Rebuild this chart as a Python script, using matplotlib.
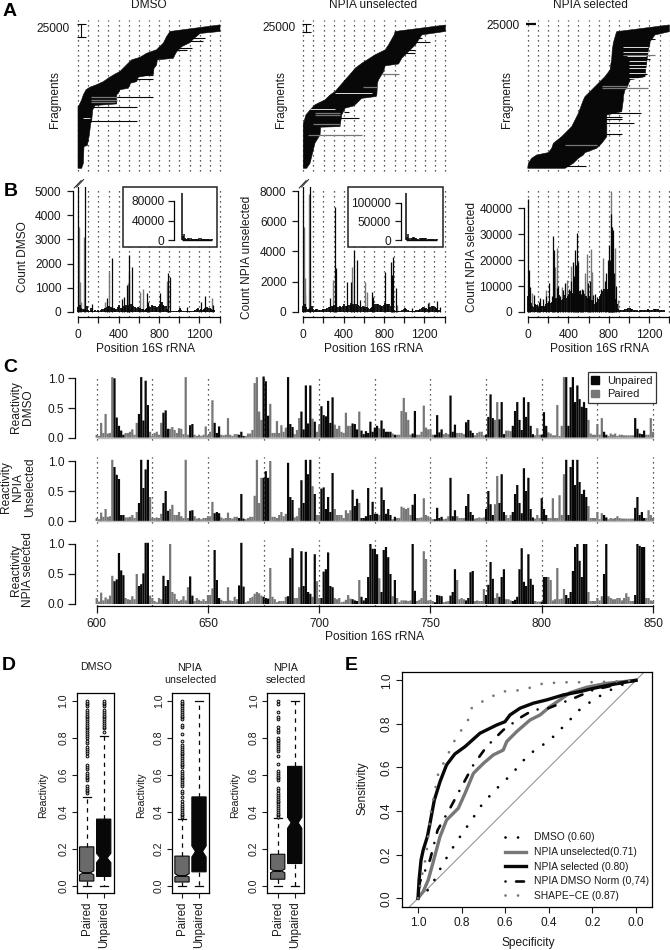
import numpy as np
import matplotlib
matplotlib.use('Agg')
import matplotlib.pyplot as plt
from matplotlib.patches import Rectangle, Patch

W, H = 670, 950
plt.rcParams['font.family'] = ['Liberation Sans', 'DejaVu Sans']
plt.rcParams['font.size'] = 8.6
plt.rcParams['text.color'] = '#1a1a1a'
plt.rcParams['axes.linewidth'] = 0.9
plt.rcParams['xtick.color'] = '#1a1a1a'
plt.rcParams['ytick.color'] = '#1a1a1a'
BLACK = '#080808'
GRAY = '#777777'

# panel A: outline of the sorted fragments (thousands of fragments, positions)
a1_left_frag = [0, 122, 124, 135, 145, 155, 160, 165, 171, 178, 186, 191, 201, 214, 219, 227, 234, 247, 260, 270, 283]
a1_left = [0, 0, 10, 36, 53, 79, 118, 184, 250, 299, 365, 414, 463, 529, 611, 677, 775, 841, 874, 907, 1400]
a1_right_frag = [0, 10, 43, 45, 66, 88, 94, 115, 124, 127, 145, 148, 155, 158, 168, 171, 180, 185, 197, 204, 214, 217, 224, 230, 240, 248, 255, 266, 270, 283]
a1_right = [36, 53, 59, 92, 112, 125, 135, 145, 168, 381, 381, 398, 414, 496, 519, 578, 595, 743, 749, 775, 782, 940, 956, 973, 1022, 1104, 1137, 1203, 1400, 1400]
a1_spike = [94, 120, 141, 176, 184, 189, 234, 237, 252, 257, 263]
a1_start = [53, 118, 118, 480, 480, 480, 940, 973, 1003, 1068, 1068]
a1_end = [578, 578, 743, 736, 743, 726, 1070, 1120, 1235, 1252, 1170]
a1_gray = [135, 140, 130]
a1_gray_start = [125, 125, 125]
a1_gray_end = [381, 381, 360]
a1_white = [99]
a1_white_start = [53]
a1_white_end = [118]

a2_left_frag = [0, 147, 152, 174, 190, 207, 223, 239, 250, 288, 315, 326, 342, 370, 386, 402, 435, 446, 467]
a2_left = [0, 0, 7, 26, 66, 115, 214, 264, 313, 412, 484, 511, 576, 708, 807, 840, 896, 906, 1400]
a2_right_frag = [0, 16, 82, 109, 134, 136, 174, 196, 203, 210, 228, 234, 239, 277, 288, 315, 334, 340, 359, 370, 386, 402, 435, 446, 467]
a2_right = [33, 66, 115, 165, 171, 362, 379, 412, 494, 520, 576, 718, 725, 731, 741, 791, 807, 939, 972, 1005, 1054, 1104, 1169, 1400, 1400]
a2_spike = [163, 185, 413, 424, 440, 375, 386]
a2_start = [300, 400, 988, 988, 906, 1005, 1005]
a2_end = [550, 451, 1252, 1169, 1219, 1104, 1104]
a2_gray = [109, 308, 174, 179, 145, 264]
a2_gray_start = [49, 774, 115, 115, 100, 593]
a2_gray_end = [576, 939, 362, 362, 362, 731]
a2_white = [247, 192, 114]
a2_white_start = [313, 66, 198]
a2_white_end = [675, 313, 313]

a3_left_frag = [0, 63, 125, 167, 196, 250, 312, 396, 437, 521, 562, 687, 708, 854, 896, 979, 1000, 1104, 1146, 1229, 1312, 1354, 1479, 1562, 1583, 1667, 1708, 1792]
a3_left = [0, 7, 39, 89, 204, 237, 253, 335, 368, 434, 450, 500, 506, 549, 565, 631, 647, 729, 762, 812, 821, 828, 834, 844, 848, 867, 877, 1397]
a3_right_frag = [0, 63, 125, 167, 196, 250, 312, 396, 667, 708, 854, 896, 979, 1000, 1104, 1146, 1229, 1312, 1354, 1479, 1562, 1583, 1667, 1708, 1792]
a3_right = [368, 450, 499, 549, 565, 680, 730, 780, 780, 927, 943, 943, 959, 976, 1009, 1157, 1163, 1173, 1176, 1190, 1206, 1206, 1255, 1397, 1397]
a3_spike = [29, 429, 562, 612, 646, 687, 1179, 1363, 1613]
a3_start = [368, 729, 664, 664, 664, 582, 992, 992, 943]
a3_end = [572, 933, 1048, 933, 933, 1114, 1173, 1206, 1255]
a3_gray = [292, 1000, 1029, 1417]
a3_gray_start = [368, 729, 729, 943]
a3_gray_end = [680, 1190, 979, 1255]
a3_white = [1458, 1520, 1400, 1340, 1290, 1250, 1196, 1125]
a3_white_start = [943, 943, 980, 1000, 1000, 1000, 1000, 1000]
a3_white_end = [1190, 1190, 1170, 1170, 1170, 1170, 1160, 1150]

# panel B: background counts every 14 nt, then the tall peaks
dmso_base = [200, 300, 180, 120, 90, 140, 260, 100, 60, 150, 90, 60, 70, 50, 80, 60, 90, 110, 120, 160, 200, 240, 260, 200, 150, 180, 140, 120, 200, 300, 180, 150, 260, 220, 280, 300, 240, 320, 200, 260, 220, 180, 200, 160, 180, 140, 120, 100, 120, 160, 180, 220, 300, 260, 240, 180, 200, 240, 350, 400, 300, 260, 240, 120, 60, 40, 30, 40, 30, 30, 40, 100, 150, 100, 60, 40, 30, 30, 30, 40, 40, 50, 60, 90, 120, 150, 100, 120, 90, 130, 170, 200, 180, 150, 130, 100, 80]
dmso_black_pos = [0, 66, 132, 288, 330, 430, 453, 479, 506, 532, 678, 691, 810, 886, 892, 912, 1074, 1216, 1256, 1339]
dmso_black = [5300, 5300, 350, 560, 2250, 550, 630, 1100, 2350, 1870, 770, 430, 770, 1620, 1050, 1460, 220, 420, 660, 290]
dmso_gray_pos = [7, 16, 26, 60, 264, 307, 489, 499, 612, 638, 876, 1322]
dmso_gray = [3500, 1250, 400, 3100, 430, 1660, 1180, 1660, 840, 950, 1280, 565]

unsel_base = [400, 500, 350, 200, 150, 260, 400, 200, 100, 220, 200, 120, 150, 130, 200, 220, 200, 260, 300, 340, 380, 420, 450, 380, 300, 350, 400, 320, 380, 500, 420, 380, 440, 480, 600, 500, 420, 500, 380, 450, 420, 360, 400, 340, 360, 300, 260, 220, 260, 320, 400, 500, 560, 500, 450, 380, 420, 480, 600, 520, 560, 500, 420, 200, 120, 90, 70, 80, 60, 70, 120, 220, 280, 200, 130, 90, 70, 70, 70, 90, 100, 110, 130, 200, 280, 320, 220, 260, 200, 280, 360, 420, 380, 320, 280, 220, 150]
unsel_black_pos = [0, 65, 70, 264, 314, 320, 436, 470, 502, 536, 562, 678, 694, 810, 866, 880, 892, 916, 1081, 1200, 1233, 1329, 1352]
unsel_black = [8300, 8300, 1450, 950, 6950, 2880, 2000, 2000, 4090, 3430, 800, 1340, 1000, 2660, 3280, 2440, 3650, 1560, 240, 350, 570, 730, 350]
unsel_gray_pos = [8, 15, 20, 60, 298, 479, 611, 635, 930, 1246]
unsel_gray = [5600, 2250, 1150, 7800, 2100, 3000, 2000, 1340, 460, 680]

sel_base = [6000, 5000, 3500, 2500, 2000, 3000, 2800, 1800, 1200, 2500, 2200, 1500, 2500, 3000, 3500, 4000, 3500, 3800, 4500, 5000, 5500, 6000, 6500, 5500, 4500, 5000, 6500, 5500, 6000, 7000, 8000, 7500, 7000, 8000, 9000, 8000, 7000, 8000, 6000, 6500, 7000, 6000, 5500, 6000, 5000, 4500, 3500, 3000, 3500, 4000, 5000, 6000, 7000, 8000, 9000, 9500, 8000, 9000, 10000, 9500, 8000, 6500, 5000, 3000, 1200, 800, 600, 800, 900, 1200, 1000, 1400, 1500, 1300, 1000, 800, 700, 600, 500, 600, 700, 600, 700, 800, 900, 1000, 800, 900, 800, 1000, 1200, 1100, 1000, 900, 800, 700, 600]
sel_black_pos = [0, 7, 20, 60, 86, 110, 119, 150, 180, 205, 235, 251, 253, 291, 300, 320, 350, 370, 410, 425, 443, 460, 469, 475, 486, 499, 516, 525, 535, 549, 590, 610, 648, 660, 688, 700, 720, 760, 775, 790, 800, 810, 820, 830, 835, 846, 855, 870]
sel_black = [43600, 16200, 9800, 6500, 3000, 4000, 5300, 5000, 6000, 11300, 6200, 29300, 23900, 9100, 10000, 6000, 8500, 11000, 9000, 12000, 19400, 14000, 23900, 18000, 30400, 19200, 8500, 7000, 9000, 8500, 11000, 12000, 6500, 7000, 5900, 5000, 9000, 12000, 15000, 20000, 26000, 20000, 37700, 32900, 20000, 31600, 15000, 10000]
sel_gray_pos = [36, 175, 268, 284, 334, 390, 426, 565, 582, 621, 631, 740, 820, 863, 896]
sel_gray = [7200, 8500, 17500, 24600, 9800, 12300, 17900, 14900, 22200, 24300, 15600, 20700, 46700, 24800, 4600]

# insets of B, counts every 50 nt
inset_dmso = [95600, 8000, 12000, 5000, 3500, 3000, 4500, 5000, 4000, 3000, 2500, 3000, 3500, 3500, 2500, 3000, 4000, 4500, 3500, 2500, 2000, 2000, 2500, 3000, 2500, 3000, 3500, 2500]
inset_unsel = [125000, 9000, 16000, 7000, 6000, 5000, 9000, 8500, 6000, 5000, 4000, 4500, 6000, 7000, 5000, 5000, 6500, 7000, 5000, 3000, 2500, 2500, 3000, 3500, 3000, 3500, 4000, 3000]

# panel C: reactivity at every position from 600 to 850
react_dmso = [
    .05, .03, .25, .08, .40, .07, .08, 1.02, 1.0, .34,
    .2, .12, .05, .08, .08, .1, .14, .05, .25, .40,
    1.02, .29, .96, .55, .1, .03, .08, .1, .05, .25,
    .42, .46, .15, .15, .18, .13, .08, .16, .15, .06,
    1.02, .05, .21, .23, .05, .03, .05, .03, .05, .19,
    .04, .1, .63, .25, .08, .19, .05, .04, .05, .33,
    .05, .03, .06, .06, .05, .10, .03, .03, .07, .07,
    .13, .92, 1.02, .44, .3, 1.03, .95, .37, .57, .08,
    .08, .28, .08, .21, .10, .17, 1.02, .23, .18, .06,
    .13, .33, .44, .14, .88, .24, .88, .32, .27, .1,
    .22, .53, .38, .36, .62, .25, .68, .22, .15, .2,
    .1, .08, .42, .2, .2, .24, .23, .14, .44, .12,
    .06, .11, .08, .27, .1, .17, .2, .16, .29, .15,
    .1, .1, .1, .07, .05, .05, .05, .45, .67, .43,
    .3, .05, .07, .45, .05, .05, .1, .54, .17, .14,
    .14, .05, .05, .38, .09, .14, .06, .08, .06, .71,
    .1, .22, .08, .08, .08, .06, .26, .3, .12, .08,
    .04, .08, .1, .1, .04, .05, .35, .73, .33, .3,
    .6, .31, .6, .06, .12, .12, .11, .2, .45, .6,
    .3, .13, .68, .35, .6, .2, .06, .04, .16, .05,
    .05, .43, .2, .09, .07, .04, .04, .55, .03, .2,
    1.02, 1.02, .2, .85, 1.02, .6, .88, .65, .52, .6,
    .5, .3, .07, .05, .05, .23, .05, .33, .1, .05,
    .03, .07, .05, .07, .03, .05, .05, .04, .04, .04,
    .04, .04, .33, .15, .07, .06, .12, .05, .05, .33,
    .1]
react_unsel = [
    .05, .03, .14, .07, .20, .07, .08, 1.02, .9, .77,
    .7, .1, .1, .06, .06, .07, .1, .05, .15, .3,
    1.02, .55, .86, 1.02, .4, .05, .05, .06, .05, .12,
    .3, .5, .17, .2, .27, .1, .1, .15, .08, .05,
    1.02, .05, .17, .18, .08, .04, .05, .03, .05, .05,
    .08, .08, .32, .13, .15, .13, .06, .04, .05, .14,
    .05, .04, .07, .07, .05, .45, .04, .03, .05, .07,
    .07, .42, 1.02, .3, .72, .72, .83, .72, 1.0, .07,
    .07, .05, .1, .15, .08, .12, .97, .4, .35, .06,
    .08, .22, .68, .3, 1.02, .78, 1.02, .58, .45, .1,
    .1, .54, .56, .2, .4, .15, .8, .2, .1, .1,
    .1, .05, .18, .13, .18, .52, .25, .37, .3, .05,
    .05, .08, .55, .1, .32, .12, .12, .1, .56, .35,
    .12, .2, .1, .03, .07, .05, .05, .24, .22, .2,
    .22, .1, .27, .45, .05, .05, .06, .38, .1, .08,
    .05, .03, .03, .22, .05, .07, .03, .04, .08, .72,
    .08, .18, .08, .05, .05, .05, .25, .45, .15, .1,
    .04, .05, .06, .05, .06, .2, .5, .28, .1, .28,
    .75, .3, .78, .15, .1, .05, .1, .15, .45, .6,
    .3, .13, .88, .5, .72, .2, .06, .04, .1, .05,
    .38, .2, .1, .05, .05, .38, .05, .05, .43, .1,
    .78, 1.02, .1, .9, 1.02, .6, 1.02, .65, .45, .52,
    .4, .25, .05, .05, .05, .15, .03, .13, .1, .06,
    .03, .05, .04, .05, .08, .05, .04, .04, .04, .04,
    .04, .04, .22, .4, .1, .15, .05, .05, .18, .1,
    .05]
react_sel = [
    .1, .04, .19, .06, .11, .08, .14, .47, .38, .41,
    .85, .56, .48, .1, .08, .07, .13, .08, .5, .3,
    .33, .51, 1.02, 1.02, .14, .1, .05, .03, .1, .08,
    .47, .3, .4, 1.0, .2, .17, .08, .05, .07, .13,
    .06, .28, .46, .14, .05, .1, .07, .05, .08, .05,
    .15, .15, .26, .9, .4, .1, .07, .05, .05, .28,
    .06, .05, .12, .08, .31, 1.02, .29, .03, .05, .1,
    .12, .17, .2, .18, .14, .12, .1, .09, .6, .12,
    .08, .03, .05, .05, .05, .12, .13, .77, .93, .1,
    .1, .28, .88, .3, .87, .2, .17, .12, .83, .38,
    .1, .1, .54, .58, .86, .3, .28, .1, .08, .1,
    .03, .04, .07, .15, .09, .08, .06, .05, .4, .12,
    .06, .1, .45, 1.0, .92, .92, .83, .43, .2, .9,
    .95, .78, .5, .13, .4, .1, .03, .06, .06, .06,
    .05, .06, 1.0, .22, .05, .07, .1, .88, .75, .06,
    .07, .05, .03, .15, .14, .13, .03, .04, .05, .14,
    .2, .58, .4, .08, .1, .08, .06, .1, .53, .55,
    .05, .06, .05, .05, .25, .15, .32, .7, .42, .1,
    .18, .12, .45, .58, .08, .08, .06, .05, .07, .12,
    .58, .93, .37, .3, .83, .42, .32, .05, .04, .04,
    .04, .45, .45, .45, .4, .06, .08, .6, .08, .09,
    .25, .15, .1, .2, .55, .95, 1.0, .72, .45, 1.0,
    1.0, .2, .05, .05, .05, .1, .06, .13, .5, 1.0,
    .13, .1, .08, .08, .1, .1, .06, .1, .18, .12,
    .05, .05, .15, 1.0, .97, .95, .95, .1, .1, .06,
    .05]
unpaired_from = [608, 619, 630, 642, 653, 664, 675, 686, 692, 698, 701, 715, 719, 728, 734, 742, 752, 759, 766, 775, 781, 787, 800, 811, 828, 842]
unpaired_to = [612, 623, 632, 643, 655, 666, 677, 688, 696, 698, 706, 717, 726, 732, 734, 743, 755, 761, 769, 778, 783, 796, 802, 820, 829, 846]

# panel D: box statistics, paired then unpaired
d_titles = ['DMSO', 'NPIA\nunselected', 'NPIA\nselected']
d_q1 = [[.025, .05], [.02, .075], [.035, .12]]
d_med = [[.07, .15], [.055, .185], [.08, .34]]
d_q3 = [[.21, .36], [.16, .48], [.17, .645]]
d_cilo = [[.058, .125], [.047, .155], [.07, .31]]
d_cihi = [[.08, .175], [.065, .215], [.09, .37]]
d_whishi = [[.48, .81], [.36, 1.0], [.365, 1.0]]
d_fliers = [
    [[.5, .51, .52, .53, .54, .57, .58, .59, .6, .61, .63, .64, .65, .7, .72, .73, .74, .75, .77, .78, .8, .81, .82, .83, .84, .85, .86, .87, .88, .89, .9, .91, .92, .93, .94, .95, .97, .98, .99, 1.0],
     [.83, .85, .86, .87, .88, .89, .9, .91, .92, .93, .94, .95, .97, .98, .99, 1.0]],
    [[.37, .38, .39, .4, .41, .42, .43, .44, .46, .48, .5, .51, .54, .55, .56, .57, .58, .59, .6, .61, .62, .64, .65, .66, .67, .68, .69, .7, .71, .72, .73, .74, .75, .76, .78, .82, .86, .87, .9, .91, .92, .93, .94, .95, .96, .97, .98, .99, 1.0],
     []],
    [[.37, .38, .39, .4, .41, .42, .43, .44, .45, .46, .47, .48, .49, .5, .52, .53, .57, .58, .59, .6, .61, .62, .66, .7, .73, .74, .75, .76, .77, .78, .79, .8, .83, .84, .86, .9, .91, .94, .98, 1.0],
     []],
]

# panel E: ROC curves
roc_dmso_x = [1, .945, .884, .823, .754, .708, .654, .57, .494, .395, .318, .257, .196, .157, .089, 0]
roc_dmso_y = [0, .046, .161, .26, .359, .428, .489, .57, .658, .726, .803, .867, .91, .933, .971, 1]
roc_unsel_x = [1, .976, .953, .93, .899, .869, .815, .784, .746, .7, .654, .609, .593, .547, .486, .44, .395, .349, .303, .226, .135, 0]
roc_unsel_y = [0, .031, .084, .168, .283, .359, .413, .482, .573, .619, .658, .68, .719, .765, .818, .841, .879, .91, .943, .968, .986, 1]
roc_sel_x = [1, .995, .986, .976, .957, .945, .925, .899, .869, .831, .784, .716, .639, .601, .578, .532, .471, .41, .333, .257, .196, .119, 0]
roc_sel_y = [0, .084, .176, .222, .283, .344, .451, .535, .612, .662, .696, .757, .795, .81, .841, .872, .895, .91, .933, .948, .963, .979, 1]
roc_norm_x = [1, .991, .945, .91, .853, .8, .746, .685, .609, .524, .471, .402, .287, .196, 0]
roc_norm_y = [0, .076, .176, .313, .413, .512, .612, .696, .772, .833, .864, .872, .917, .956, 1]
roc_shape_x = [1, .983, .963, .942, .907, .869, .831, .765, .754, .693, .616, .517, .425, .318, .211, .104, 0]
roc_shape_y = [0, .099, .191, .39, .573, .647, .726, .826, .872, .91, .948, .956, .986, .991, .991, .994, 1]


def px_axes(l, t, r, b, **kw):
    return fig.add_axes([l / W, 1 - b / H, (r - l) / W, (b - t) / H], **kw)


def px_scale(ax, p0, v0, p1, v1, axis):
    # limits so that value v0 sits on pixel p0 and v1 on p1
    box = ax.get_position()
    if axis == 'x':
        lo, hi = box.x0 * W, box.x1 * W
    else:
        lo, hi = (1 - box.y0) * H, (1 - box.y1) * H
    k = (v1 - v0) / (p1 - p0)
    lims = (v0 + (lo - p0) * k, v0 + (hi - p0) * k)
    if axis == 'x':
        ax.set_xlim(lims)
    else:
        ax.set_ylim(lims)


def px_text(x, y, s, **kw):
    kw.setdefault('ha', 'center')
    kw.setdefault('va', 'center')
    fig.text(x / W, 1 - y / H, s, **kw)


fig = plt.figure(figsize=(W / 100, H / 100), dpi=100)
fig.patch.set_facecolor('white')

for s, x, y in [('A', 10, 11), ('B', 11, 191), ('C', 10, 368), ('D', 9, 665), ('E', 351, 666)]:
    px_text(x, y, s, fontsize=14, fontweight='bold', color='black')

# ---- panel A
panel_a = [
    (78, 25000 / 12.67, a1_left_frag, a1_left, a1_right_frag, a1_right, a1_spike, a1_start, a1_end, a1_gray, a1_gray_start, a1_gray_end, a1_white, a1_white_start, a1_white_end, 285, 260, 30, -13, 79, 29, 'DMSO', 149, 55, 70),
    (303.3, 25000 / 7.67, a2_left_frag, a2_left, a2_right_frag, a2_right, a2_spike, a2_start, a2_end, a2_gray, a2_gray_start, a2_gray_end, a2_white, a2_white_start, a2_white_end, 470, 445, 26, -17, 72, 27.7, 'NPIA unselected', 373, 281, 296),
    (527.7, 25000 / 2.0, a3_left_frag, a3_left, a3_right_frag, a3_right, a3_spike, a3_start, a3_end, a3_gray, a3_gray_start, a3_gray_end, a3_white, a3_white_start, a3_white_end, 1822, 1797, None, -20, 80, 26, 'NPIA selected', 590, 506.7, 520),
]
for x0, per_px, l_frag, left, r_frag, right, sp, sp_a, sp_b, gr, gr_a, gr_b, wh, wh_a, wh_b, bar_top, bar_bot, bar_x, cap_a, cap_b, lab_y, title, title_x, ylab_x, lab_x in panel_a:
    ax = px_axes(x0 - 5, 18, min(x0 + 147, W), 173)
    ax.axis('off')
    px_scale(ax, x0, 0, x0 + 142, 1400, 'x')
    px_scale(ax, 168.3, 0, 168.3 - 100, 100 * per_px / 1000, 'y')
    ax.vlines(np.arange(0, 1500, 100), ax.get_ylim()[0] + (ax.get_ylim()[1] - ax.get_ylim()[0]) * .01, ax.get_ylim()[1] * .99,
              colors='#222222', linewidth=0.9, linestyles=(0, (1, 3)), zorder=1)
    ax.fill(list(left) + list(right)[::-1], list(l_frag) + list(r_frag)[::-1], color=BLACK, linewidth=0.4, zorder=2)
    ax.hlines(sp, sp_a, sp_b, colors=BLACK, linewidth=0.8, zorder=3)
    ax.hlines(gr, gr_a, gr_b, colors=GRAY, linewidth=0.9, zorder=3)
    ax.hlines(wh, wh_a, wh_b, colors='white', linewidth=0.6, zorder=3)
    if bar_x is not None:
        ax.plot([bar_x, bar_x], [bar_top, bar_bot], color=BLACK, linewidth=0.8, clip_on=False)
        ax.hlines([bar_top, bar_bot], cap_a, cap_b, colors=BLACK, linewidth=0.8, clip_on=False)
    else:
        ax.hlines((bar_top + bar_bot) / 2, cap_a, cap_b, colors=BLACK, linewidth=1.6, clip_on=False)
    px_text(title_x, 5, title)
    px_text(ylab_x, 100, 'Fragments', rotation=90)
    px_text(lab_x, lab_y, '25000', ha='right')

# ---- panel B
panel_b = [
    (72.7, 78.3, 191, 5000, 222, dmso_base, dmso_gray_pos, dmso_gray, dmso_black_pos, dmso_black, [0, 1000, 2000, 3000, 4000, 5000], 'Count DMSO', 23, 145),
    (297.7, 303.3, 191, 8000, 447, unsel_base, unsel_gray_pos, unsel_gray, unsel_black_pos, unsel_black, [0, 2000, 4000, 6000, 8000], 'Count NPIA unselected', 246.7, 373),
    (523.7, 528, 208.3, 40000, 670, sel_base, sel_gray_pos, sel_gray, sel_black_pos, sel_black, [0, 10000, 20000, 30000, 40000], 'Count NPIA selected', 471.7, 600),
]
for spine_x, x0, top_px, top_val, right_px, base, gray_pos, gray, black_pos, black, yticks, ylab, ylab_x, xlab_x in panel_b:
    ax = px_axes(spine_x, 187, right_px, 317.3)
    px_scale(ax, x0, 0, x0 + 141.2, 1400, 'x')
    px_scale(ax, 312, 0, top_px, top_val, 'y')
    ax.vlines(np.arange(0, 1500, 100), 0, 1, transform=ax.get_xaxis_transform(),
              colors='#222222', linewidth=0.9, linestyles=(0, (1, 3)), zorder=1)
    ax.vlines(np.arange(len(base)) * 14, 0, base, colors=BLACK, linewidth=1.3, zorder=3)
    ax.vlines(gray_pos, 0, gray, colors=GRAY, linewidth=1.0, zorder=2)
    ax.vlines(black_pos, 0, black, colors=BLACK, linewidth=0.9, zorder=3)
    for side in ['top', 'right']:
        ax.spines[side].set_visible(False)
    ax.spines['left'].set_bounds(0, top_val)
    ax.spines['bottom'].set_bounds(0, 1400)
    ax.set_xticks(np.arange(0, 1500, 200))
    ax.set_xticklabels(['0', '', '400', '', '800', '', '1200', ''])
    ax.set_yticks(yticks)
    ax.tick_params(axis='both', length=4.6, width=0.9, pad=3.5)
    px_text(ylab_x, 257, ylab, rotation=90)
    px_text(xlab_x, 349, 'Position 16S rRNA')

for bx in [72.7, 297.7]:
    for off in [0, 2.4]:
        fig.add_artist(plt.Line2D([(bx + 1.5 + off) / W, (bx + 8.5 + off) / W], [1 - (188 - off * .4) / H, 1 - (180.5 - off * .4) / H],
                                  color='#222222', linewidth=0.7))

# insets
inset_b = [
    (123, 217, 181.7, 0.0222, 174, 201, 80000, inset_dmso, [0, 40000, 80000]),
    (348.3, 442.7, 406, 0.0227, 400.7, 202.7, 100000, inset_unsel, [0, 50000, 100000]),
]
for l, r, x0, k, spine_x, top_px, top_val, counts, yticks in inset_b:
    ax = px_axes(l, 187, r, 247, zorder=5)
    px_scale(ax, x0, 0, x0 + k * 1000, 1000, 'x')
    px_scale(ax, 240.3, 0, top_px, top_val, 'y')
    pos = np.arange(len(counts)) * 50
    ax.vlines(pos, 0, counts, colors=BLACK, linewidth=1.1)
    ax.hlines(0, 0, pos[-1], colors=BLACK, linewidth=1.0)
    for side in ['top', 'right', 'bottom']:
        ax.spines[side].set_visible(False)
    ax.spines['left'].set_position(('data', (spine_x - x0) / k))
    ax.spines['left'].set_bounds(0, top_val)
    ax.set_xticks([])
    ax.set_yticks(yticks)
    ax.tick_params(axis='y', length=4.4, width=0.9, pad=2.5)
    ax.add_patch(Rectangle((0, 0), 1, 1, transform=ax.transAxes, fill=False, edgecolor='#222222', linewidth=1.1, clip_on=False))

# ---- panel C
positions = np.arange(600, 851)
is_unpaired = np.zeros(len(positions), dtype=bool)
for a, b in zip(unpaired_from, unpaired_to):
    is_unpaired[a - 600:b - 600 + 1] = True

rows = [
    (372, 440, 437.7, 378.3, react_dmso, 'Reactivity\nDMSO', 22, 407),
    (455, 523, 521, 461, react_unsel, 'Reactivity\nNPIA\nUnselected', 18, 487),
    (538, 605.7, 604, 544, react_sel, 'Reactivity\nNPIA selected', 22, 570),
]
for i, (t, b, zero_px, one_px, vals, ylab, ylab_x, ylab_y) in enumerate(rows):
    ax = px_axes(75, t, 657, b, zorder=3 - i)
    ax.patch.set_alpha(0)
    px_scale(ax, 96.7, 600, 653, 850, 'x')
    px_scale(ax, zero_px, 0, one_px, 1, 'y')
    vals = np.array(vals)
    ax.vlines(np.arange(600, 875, 25), -0.04, 1.06, colors='#222222', linewidth=0.9, linestyles=(0, (1, 3)), zorder=1, clip_on=False)
    for mask, col in [(~is_unpaired, GRAY), (is_unpaired, BLACK)]:
        bars = ax.bar(positions[mask], vals[mask], width=1.0, color=col, linewidth=0, zorder=2)
        for p in bars:
            p.set_snap(False)
    if i < 2:
        ax.hlines(-0.005, 600, 850, colors='#bdbdbd', linewidth=1.0, zorder=2)
    for side in ['top', 'right']:
        ax.spines[side].set_visible(False)
    ax.spines['left'].set_bounds(0, 1)
    ax.set_yticks([0, 0.5, 1])
    ax.set_yticklabels(['0.0', '0.5', '1.0'])
    ax.tick_params(axis='y', length=4.8, width=0.9, pad=3)
    if i == 2:
        ax.spines['bottom'].set_bounds(600, 850)
        ax.set_xticks(np.arange(600, 851, 50))
        ax.tick_params(axis='x', length=5.2, width=0.9, pad=3.5)
    else:
        ax.spines['bottom'].set_visible(False)
        ax.set_xticks([])
    px_text(ylab_x, ylab_y, ylab, rotation=90, linespacing=1.0, ma='center')
    if i == 0:
        leg = ax.legend(handles=[Patch(color=BLACK, label='Unpaired'), Patch(color=GRAY, label='Paired')],
                        loc='center', bbox_to_anchor=(622 / W, 1 - 387.8 / H), bbox_transform=fig.transFigure,
                        fancybox=False, framealpha=1, edgecolor='#333333', fontsize=8,
                        handlelength=0.7, handleheight=0.7, handletextpad=0.7, labelspacing=0.3, borderpad=0.35, borderaxespad=0)
        leg.get_frame().set_linewidth(0.9)
        leg.set_zorder(10)
px_text(375, 637, 'Position 16S rRNA')

# ---- panel D
frames = [(76.7, 114, 86.7, 103.7, 43, 96), (172.3, 209, 182, 199, 141, 190), (267.3, 304, 277.7, 294.7, 235, 286)]
for i, (l, r, p1, p2, ylab_x, title_x) in enumerate(frames):
    ax = px_axes(l, 693.3, r, 892.7)
    px_scale(ax, p1, 1, p2, 2, 'x')
    px_scale(ax, 885.7, 0, 700.7, 1, 'y')
    stats = []
    for j in range(2):
        stats.append(dict(med=d_med[i][j], q1=d_q1[i][j], q3=d_q3[i][j], whislo=0, whishi=d_whishi[i][j],
                          cilo=d_cilo[i][j], cihi=d_cihi[i][j], fliers=d_fliers[i][j]))
    res = ax.bxp(stats, positions=[1, 2], widths=0.84, shownotches=True, patch_artist=True, manage_ticks=False, capwidths=0.45,
                 boxprops=dict(edgecolor=BLACK, linewidth=0.8),
                 medianprops=dict(color=BLACK, linewidth=1.4),
                 whiskerprops=dict(color=BLACK, linewidth=0.9, linestyle=(0, (3.5, 3.5))),
                 capprops=dict(color=BLACK, linewidth=0.9),
                 flierprops=dict(marker='o', markersize=2.0, markerfacecolor='#dddddd', markeredgecolor=BLACK, markeredgewidth=0.7))
    res['boxes'][0].set_facecolor('#6a6a6a')
    res['boxes'][1].set_facecolor(BLACK)
    ax.set_xticks([1, 2])
    ax.set_xticklabels(['Paired', 'Unpaired'], rotation=90, fontsize=8.3)
    ax.set_yticks([0, .2, .4, .6, .8, 1.0])
    ax.set_yticklabels(['0.0', '0.2', '0.4', '0.6', '0.8', '1.0'], rotation=90, va='center', fontsize=7.6)
    ax.tick_params(axis='both', length=3.6, width=0.8, pad=2.5)
    px_text(ylab_x, 795, 'Reactivity', rotation=90, fontsize=7.6)
    if '\n' in d_titles[i]:
        px_text(title_x, 674, d_titles[i], fontsize=7.7, linespacing=1.15)
    else:
        px_text(title_x, 667.5, d_titles[i], fontsize=7.7)

# ---- panel E
ax = px_axes(402.3, 671.7, 652.3, 907.3)
px_scale(ax, 418, 1, 636, 0, 'x')
px_scale(ax, 898.3, 0, 680.3, 1, 'y')
ax.plot([1.2, -0.2], [-0.2, 1.2], color='#8a8a8a', linewidth=0.7, zorder=1)
ax.plot(roc_dmso_x, roc_dmso_y, color=BLACK, linewidth=2.0, linestyle=(0, (0.01, 4.5)), dash_capstyle='round', label='DMSO (0.60)')
ax.plot(roc_unsel_x, roc_unsel_y, color=GRAY, linewidth=2.4, label='NPIA unselected(0.71)')
ax.plot(roc_sel_x, roc_sel_y, color=BLACK, linewidth=2.4, label='NPIA selected (0.80)')
ax.plot(roc_norm_x, roc_norm_y, color=BLACK, linewidth=1.9, linestyle=(0, (0.01, 4, 3, 4)), dash_capstyle='round', label='NPIA DMSO Norm (0,74)')
ax.plot(roc_shape_x, roc_shape_y, color=GRAY, linewidth=2.0, linestyle=(0, (0.01, 4.5)), dash_capstyle='round', label='SHAPE\u2212CE (0.87)')
ax.set_xticks([1, .8, .6, .4, .2, 0])
ax.set_xticklabels(['1.0', '0.8', '0.6', '0.4', '0.2', '0.0'])
ax.set_yticks([0, .2, .4, .6, .8, 1])
ax.set_yticklabels(['0.0', '0.2', '0.4', '0.6', '0.8', '1.0'], rotation=90, va='center')
ax.tick_params(axis='both', length=4, width=0.8, pad=3)
ax.legend(loc='lower left', bbox_to_anchor=(505 / W, 1 - 901 / H), bbox_transform=fig.transFigure, frameon=False, fontsize=7.4,
          handlelength=2.0, handletextpad=0.8, labelspacing=0.45, borderpad=0, borderaxespad=0)
px_text(362.7, 788, 'Sensitivity', rotation=90)
px_text(528, 942.7, 'Specificity')

fig.savefig('out.png', dpi=100)
